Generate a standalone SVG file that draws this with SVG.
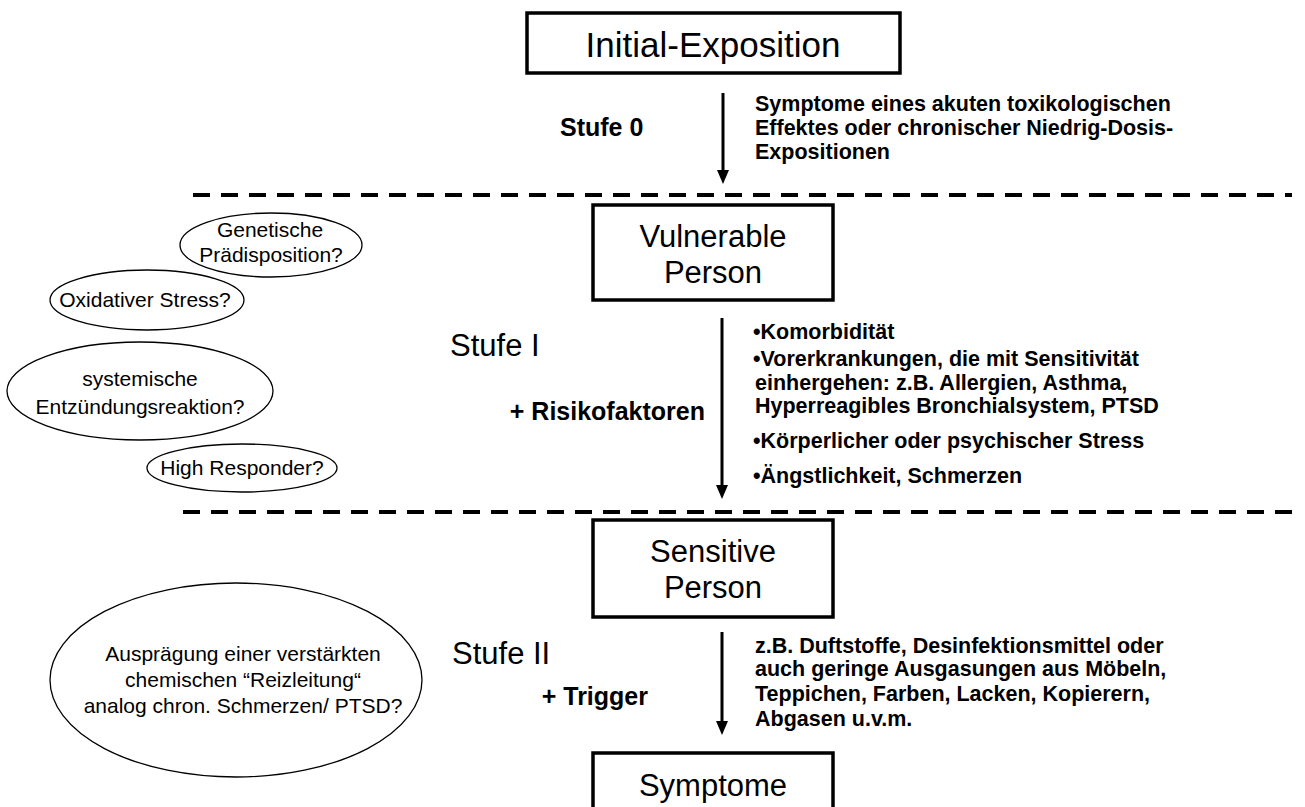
<svg xmlns="http://www.w3.org/2000/svg" width="1305" height="807" viewBox="0 0 1305 807">
<style>
.box{fill:#fff;stroke:#000;stroke-width:3.5}
.ell{fill:#fff;stroke:#000;stroke-width:1.3}
.dash{stroke:#000;stroke-width:4;stroke-dasharray:17 11;fill:none}
.arr{stroke:#000;stroke-width:3;fill:none}
text{font-family:"Liberation Sans",Arial,sans-serif;fill:#000}
.big{font-size:35px;text-anchor:middle}
.node{font-size:31px;text-anchor:middle}
.stufe{font-size:31px}
.bold{font-size:21.5px;font-weight:bold}
.plus{font-size:25px;font-weight:bold}
.el{font-size:21px;text-anchor:middle}
</style>
<g id="separators">
<line class="dash" x1="193" y1="195" x2="1292" y2="195"/>
<line class="dash" x1="183" y1="512" x2="1292" y2="512"/>
</g>
<g id="connectors">
<line class="arr" x1="723" y1="93" x2="723" y2="170"/>
<path d="M717,170 L729,170 L723,184 Z" fill="#000"/>
<line class="arr" x1="722" y1="318" x2="722" y2="485"/>
<path d="M716,485 L728,485 L722,499 Z" fill="#000"/>
<line class="arr" x1="722" y1="632" x2="722" y2="721"/>
<path d="M716,721 L728,721 L722,735 Z" fill="#000"/>
</g>
<g id="node-initial">
<rect class="box" x="527" y="13" width="373" height="60"/>
<text class="big" x="713" y="57">Initial-Exposition</text>
</g>
<g id="node-vulnerable">
<rect class="box" x="593" y="205" width="240" height="95"/>
<text class="node" x="713" y="247">Vulnerable</text>
<text class="node" x="713" y="283">Person</text>
</g>
<g id="node-sensitive">
<rect class="box" x="593" y="520" width="240" height="97"/>
<text class="node" x="713" y="562">Sensitive</text>
<text class="node" x="713" y="598">Person</text>
</g>
<g id="node-symptome">
<rect class="box" x="593" y="753" width="240" height="80"/>
<text class="node" x="713" y="796">Symptome</text>
</g>
<g id="labels-stufe0">
<text class="plus" x="560" y="136">Stufe 0</text>
<text class="bold" x="755" y="111">Symptome eines akuten toxikologischen</text>
<text class="bold" x="755" y="135">Effektes oder chronischer Niedrig-Dosis-</text>
<text class="bold" x="755" y="159">Expositionen</text>
</g>
<g id="labels-stufe1">
<text class="stufe" x="450" y="356">Stufe I</text>
<text class="plus" x="705" y="420" text-anchor="end">+ Risikofaktoren</text>
<text class="bold" x="753" y="339">•Komorbidität</text>
<text class="bold" x="753" y="366">•Vorerkrankungen, die mit Sensitivität</text>
<text class="bold" x="755" y="390">einhergehen: z.B. Allergien, Asthma,</text>
<text class="bold" x="755" y="413">Hyperreagibles Bronchialsystem, PTSD</text>
<text class="bold" x="753" y="448">•Körperlicher oder psychischer Stress</text>
<text class="bold" x="753" y="483">•Ängstlichkeit, Schmerzen</text>
</g>
<g id="labels-stufe2">
<text class="stufe" x="452" y="664">Stufe II</text>
<text class="plus" x="648" y="705" text-anchor="end">+ Trigger</text>
<text class="bold" x="755" y="653">z.B. Duftstoffe, Desinfektionsmittel oder</text>
<text class="bold" x="755" y="676">auch geringe Ausgasungen aus Möbeln,</text>
<text class="bold" x="755" y="701">Teppichen, Farben, Lacken, Kopierern,</text>
<text class="bold" x="755" y="726">Abgasen u.v.m.</text>
</g>
<g id="node-genetische">
<ellipse class="ell" cx="271" cy="245" rx="91" ry="32"/>
<text class="el" x="270" y="237">Genetische</text>
<text class="el" x="271" y="262">Prädisposition?</text>
</g>
<g id="node-oxidativ">
<ellipse class="ell" cx="147" cy="300" rx="97" ry="30"/>
<text class="el" x="145" y="307">Oxidativer Stress?</text>
</g>
<g id="node-entzuendung">
<ellipse class="ell" cx="140" cy="391" rx="133" ry="49"/>
<text class="el" x="140" y="386">systemische</text>
<text class="el" x="140" y="414">Entzündungsreaktion?</text>
</g>
<g id="node-highresponder">
<ellipse class="ell" cx="242" cy="468" rx="95" ry="24"/>
<text class="el" x="242" y="475">High Responder?</text>
</g>
<g id="node-auspraegung">
<ellipse class="ell" cx="236" cy="680" rx="186" ry="97"/>
<text class="el" x="243" y="661">Ausprägung einer verstärkten</text>
<text class="el" x="243" y="687">chemischen “Reizleitung“</text>
<text class="el" x="243" y="713">analog chron. Schmerzen/ PTSD?</text>
</g>
</svg>
